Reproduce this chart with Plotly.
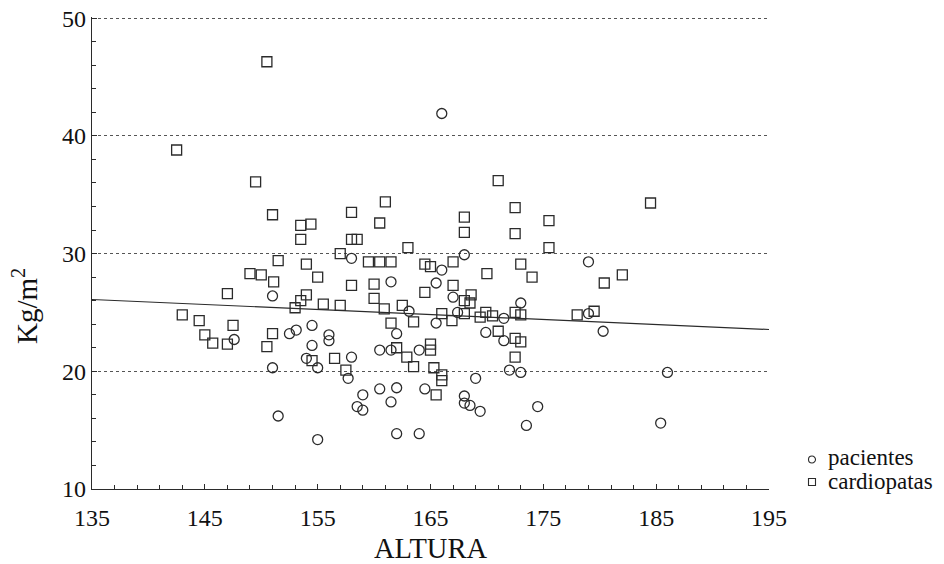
import plotly.graph_objects as go

# pacientes (circles)
pac_x = [166.0, 147.6, 161.5, 165.5, 151.0, 163.1, 165.5, 162.0, 154.5, 152.5,
         153.1, 156.0, 156.0, 154.5, 160.5, 161.5, 164.0, 154.0, 158.0, 155.0,
         151.0, 157.7, 160.5, 162.0, 164.5, 159.0, 161.5, 158.5, 159.0, 151.5,
         155.0, 162.0, 164.0, 158.0, 166.0, 168.0, 179.0, 167.0, 167.4, 171.5,
         173.0, 179.0, 180.3, 169.9, 171.5, 172.0, 173.0, 169.0, 168.0, 168.0,
         168.5, 169.4, 174.5, 173.5, 186.0, 185.4]
pac_y = [41.9, 22.7, 27.6, 27.5, 26.4, 25.1, 24.1, 23.2, 23.9, 23.2,
         23.5, 23.1, 22.6, 22.2, 21.8, 21.8, 21.8, 21.1, 21.2, 20.3,
         20.3, 19.4, 18.5, 18.6, 18.5, 18.0, 17.4, 17.0, 16.7, 16.2,
         14.2, 14.7, 14.7, 29.6, 28.6, 29.9, 29.3, 26.3, 25.0, 24.5,
         25.8, 24.9, 23.4, 23.3, 22.6, 20.1, 19.9, 19.4, 17.9, 17.3,
         17.1, 16.6, 17.0, 15.4, 19.9, 15.6]

# cardiopatas (squares)
car_x = [142.5, 149.5, 151.0, 150.5, 149.0, 150.0, 151.1, 147.0, 143.0, 144.5,
         147.5, 145.0, 145.7, 147.0, 151.0, 150.5, 155.0, 158.0, 160.0, 160.0,
         164.5, 167.0, 154.0, 153.5, 153.0, 155.5, 157.0, 160.9, 162.5, 166.0,
         166.9, 161.5, 163.5, 165.0, 165.0, 162.0, 154.5, 156.5, 162.9, 163.5,
         157.5, 165.3, 166.0, 166.0, 165.5, 161.0, 158.0, 160.5, 153.5, 154.4,
         153.5, 158.0, 158.5, 163.0, 151.5, 157.0, 159.5, 160.5, 161.5, 164.5,
         165.0, 167.0, 154.0, 171.0, 172.5, 168.0, 168.0, 172.5, 175.5, 175.5,
         173.0, 170.0, 174.0, 180.4, 182.0, 184.5, 168.6, 168.0, 168.5, 168.0,
         169.4, 169.9, 170.5, 172.5, 173.0, 178.0, 179.5, 171.0, 172.5, 173.0,
         172.5]
car_y = [38.8, 36.1, 33.3, 46.3, 28.3, 28.2, 27.6, 26.6, 24.8, 24.3,
         23.9, 23.1, 22.4, 22.3, 23.2, 22.1, 28.0, 27.3, 27.4, 26.2,
         26.7, 27.3, 26.5, 26.0, 25.4, 25.7, 25.6, 25.3, 25.6, 24.9,
         24.3, 24.1, 24.2, 22.3, 21.8, 22.0, 20.9, 21.1, 21.2, 20.4,
         20.1, 20.3, 19.7, 19.2, 18.0, 34.4, 33.5, 32.6, 32.4, 32.5,
         31.2, 31.2, 31.2, 30.5, 29.4, 30.0, 29.3, 29.3, 29.3, 29.1,
         28.9, 29.3, 29.1, 36.2, 33.9, 33.1, 31.8, 31.7, 32.8, 30.5,
         29.1, 28.3, 28.0, 27.5, 28.2, 34.3, 26.5, 26.0, 25.8, 24.9,
         24.6, 25.0, 24.7, 25.0, 24.8, 24.8, 25.1, 23.4, 22.8, 22.5,
         21.2]

# regression line (end values)
line_x = [135, 195]
line_y = [26.1, 23.55]

x_ticks = [135, 145, 155, 165, 175, 185, 195]
y_ticks = [10, 20, 30, 40, 50]
legend_names = ["pacientes", "cardiopatas"]

FONT = "Liberation Serif"
INK = "#2b2b2b"
TXT = "#111"

fig = go.Figure()
fig.add_trace(go.Scatter(x=line_x, y=line_y, mode="lines",
                         line=dict(color=INK, width=1.2), showlegend=False,
                         hoverinfo="skip"))
fig.add_trace(go.Scatter(x=pac_x, y=pac_y, mode="markers", name=legend_names[0],
                         marker=dict(symbol="circle-open", size=10, color=INK,
                                     line=dict(width=1.3)),
                         showlegend=False))
fig.add_trace(go.Scatter(x=car_x, y=car_y, mode="markers", name=legend_names[1],
                         marker=dict(symbol="square-open", size=10, color=INK,
                                     line=dict(width=1.3)),
                         showlegend=False))

L, R, T, B = 92, 175, 17, 75
W, H = 944, 564
pw, ph = W - L - R, H - T - B

def px2paper(px, py):
    return (px - L) / pw, (H - B - py) / ph

# compact legend drawn in the right margin
shapes = []
annotations = []
marker_y = [459.5, 482.0]
text_y = [457.0, 481.0]
for name, kind, my, ty_px in zip(legend_names, ["circle", "rect"], marker_y, text_y):
    ax, ay = px2paper(812, my)
    shapes.append(dict(type=kind, xref="paper", yref="paper",
                       xsizemode="pixel", ysizemode="pixel",
                       xanchor=ax, yanchor=ay, x0=-3.5, x1=3.5, y0=-3.5, y1=3.5,
                       line=dict(color=INK, width=1.1), fillcolor="rgba(0,0,0,0)"))
    tx, ty = px2paper(826, ty_px)
    annotations.append(dict(x=tx, y=ty, xref="paper", yref="paper",
                            xanchor="left", yanchor="middle", showarrow=False,
                            text=name, font=dict(family=FONT, size=23, color=TXT)))

yx, yy = px2paper(25, 306)
annotations.append(dict(x=yx, y=yy, xref="paper", yref="paper", showarrow=False,
                        text="Kg/m<sup>2</sup>", textangle=-90,
                        xanchor="center", yanchor="middle",
                        font=dict(family=FONT, size=29, color=TXT)))

fig.update_layout(
    width=W, height=H, autosize=False,
    margin=dict(l=L, r=R, t=T, b=B, pad=0, autoexpand=False),
    paper_bgcolor="white", plot_bgcolor="white",
    showlegend=False,
    shapes=shapes, annotations=annotations,
    xaxis=dict(range=[135, 195], tickvals=x_ticks, ticktext=[str(v) for v in x_ticks],
               automargin=False,
               ticks="inside", ticklen=5, tickcolor=INK, tickwidth=1,
               ticklabelstandoff=7,
               showline=True, linecolor=INK, linewidth=1.2,
               showgrid=False, zeroline=False,
               minor=dict(dtick=2, tick0=135, ticks="inside", ticklen=4,
                          tickcolor=INK, showgrid=False),
               tickfont=dict(family=FONT, size=24, color=TXT),
               title=dict(text="ALTURA", font=dict(family=FONT, size=28.5, color=TXT),
                          standoff=8)),
    yaxis=dict(range=[10, 50.1], tickvals=y_ticks, ticktext=[str(v) for v in y_ticks],
               automargin=False,
               ticks="inside", ticklen=5, tickcolor=INK, tickwidth=1,
               showline=True, linecolor=INK, linewidth=1.2,
               showgrid=True, gridcolor="#555", griddash="dot", gridwidth=1,
               zeroline=False,
               minor=dict(dtick=2, tick0=10, ticks="inside", ticklen=4,
                          tickcolor=INK, showgrid=False),
               tickfont=dict(family=FONT, size=24, color=TXT)),
)

page_css = (
    "var h=document.documentElement,b=document.body;"
    "h.style.margin='0';h.style.padding='0';h.style.overflow='hidden';"
    "b.style.margin='0';b.style.padding='0';b.style.overflow='hidden';"
)
fig.write_html("out.html", config={"displayModeBar": False}, post_script=page_css)
